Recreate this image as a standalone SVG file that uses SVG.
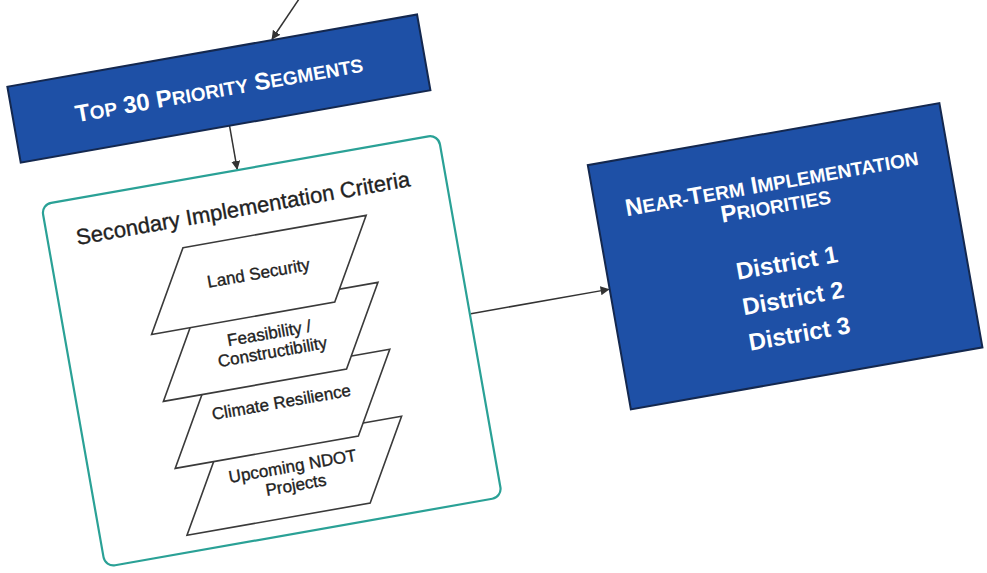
<svg xmlns="http://www.w3.org/2000/svg" width="987" height="573" viewBox="0 0 987 573">
<defs>
<marker id="arr" viewBox="0 0 10 10" refX="9" refY="5" markerWidth="9" markerHeight="9" markerUnits="userSpaceOnUse" orient="auto">
<path d="M0,0 L10,5 L0,10 Z" fill="#333"/>
</marker>
</defs>
<style>
.blue{fill:#1e50a6;stroke:#14284f;stroke-width:2}
.wt{font-family:"Liberation Sans",Arial,sans-serif;font-weight:bold;fill:#ffffff;text-anchor:middle}
.frame{fill:#ffffff;stroke:#2aa196;stroke-width:2.2}
.para{fill:#ffffff;stroke:#3a3a3a;stroke-width:1.6}
.dt{font-family:"Liberation Sans",Arial,sans-serif;fill:#222;stroke:#222;stroke-width:0.35;text-anchor:middle}
.conn{stroke:#333;stroke-width:1.5;fill:none}
.L{font-size:24px}
.S{font-size:19px}
</style>
<rect width="987" height="573" fill="#ffffff"/>
<g transform="rotate(-10 490 290)">
<g id="connectors">
<path class="conn" d="M372,-50 L319,5" marker-end="url(#arr)"/>
<path class="conn" d="M262,83 L262,127" marker-end="url(#arr)"/>
<path class="conn" d="M467,310 L607,310" marker-end="url(#arr)"/>
</g>
<g id="top30">
<rect class="blue" x="50" y="6" width="416" height="77"/>
<text class="wt" x="258" y="53"><tspan class="L">T</tspan><tspan class="S">OP</tspan><tspan class="L"> 30 P</tspan><tspan class="S">RIORITY</tspan><tspan class="L"> S</tspan><tspan class="S">EGMENTS</tspan></text>
</g>
<g id="secondary">
<rect class="frame" x="63" y="128" width="403" height="368" rx="10"/>
<text class="dt" x="261" y="174" font-size="22">Secondary Implementation Criteria</text>
</g>
<g id="upcoming">
<polygon class="para" points="195,399 381,399 335,479 149,479"/>
<text class="dt" x="265" y="435" font-size="17">Upcoming NDOT</text>
<text class="dt" x="265" y="454" font-size="17">Projects</text>
</g>
<g id="climate">
<polygon class="para" points="195,331 381,331 335,411 149,411"/>
<text class="dt" x="265" y="370" font-size="17">Climate Resilience</text>
</g>
<g id="feasibility">
<polygon class="para" points="195,263 381,263 335,343 149,343"/>
<text class="dt" x="265" y="300" font-size="17">Feasibility /</text>
<text class="dt" x="265" y="319" font-size="17">Constructibility</text>
</g>
<g id="land">
<polygon class="para" points="195,195 381,195 335,275 149,275"/>
<text class="dt" x="265" y="239" font-size="17">Land Security</text>
</g>
<g id="nearterm">
<rect class="blue" x="608" y="184" width="357" height="248"/>
<text class="wt" x="786" y="241"><tspan class="L">N</tspan><tspan class="S">EAR-</tspan><tspan class="L">T</tspan><tspan class="S">ERM</tspan><tspan class="L"> I</tspan><tspan class="S">MPLEMENTATION</tspan></text>
<text class="wt" x="786" y="264"><tspan class="L">P</tspan><tspan class="S">RIORITIES</tspan></text>
<text class="wt" x="787" y="323" font-size="24">District 1</text>
<text class="wt" x="787" y="359" font-size="24">District 2</text>
<text class="wt" x="787" y="395" font-size="24">District 3</text>
</g>
</g>
</svg>
